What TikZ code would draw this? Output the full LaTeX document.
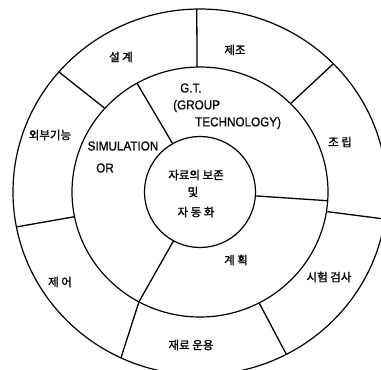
\documentclass[tikz,border=0pt]{standalone}
\usepackage{fontspec}
\setmainfont{Liberation Sans}[FakeStretch=0.9, FakeBold=0.6]
\newfontfamily\kr{Noto Sans CJK KR}[FakeBold=1.4]
\begin{document}
\begin{tikzpicture}[x=1pt,y=-1pt,
  ring/.style={draw=black, line width=1.2pt},
  divider/.style={draw=black, line width=1.3pt},
  kor/.style={font=\kr\fontsize{11.5}{12}\selectfont, inner sep=0pt},
  lat/.style={font=\fontsize{13}{15}\selectfont, inner sep=0pt}]
\useasboundingbox (0,0) rectangle (381,370);
\begin{scope}
\clip (0,0) rectangle (381,370);
% rings
\path[ring] (200,192) ellipse [x radius=187pt, y radius=183pt];
\path[ring] (200,192) ellipse [x radius=128pt, y radius=125pt];
\path[ring] (200,192) circle [radius=55.5pt];
% points on outer ring
\coordinate (o1) at ({200+187*cos(139)},{192-183*sin(139)});
\coordinate (o2) at ({200+187*cos(91)},{192-183*sin(91)});
\coordinate (o3) at ({200+187*cos(44.5)},{192-183*sin(44.5)});
\coordinate (o4) at ({200+187*cos(-8.5)},{192-183*sin(-8.5)});
\coordinate (o5) at ({200+187*cos(-62.5)},{192-183*sin(-62.5)});
\coordinate (o6) at ({200+187*cos(245)},{192-183*sin(245)});
\coordinate (o7) at ({200+187*cos(191)},{192-183*sin(191)});
% points on middle ring
\coordinate (m1) at ({200+128*cos(138)},{192-125*sin(138)});
\coordinate (m2) at ({200+128*cos(91.3)},{192-125*sin(91.3)});
\coordinate (m3) at ({200+128*cos(45)},{192-125*sin(45)});
\coordinate (m4) at ({200+128*cos(-9)},{192-125*sin(-9)});
\coordinate (m5) at ({200+128*cos(-62.5)},{192-125*sin(-62.5)});
\coordinate (m6) at ({200+128*cos(241.5)},{192-125*sin(241.5)});
\coordinate (m7) at ({200+128*cos(191.4)},{192-125*sin(191.4)});
\coordinate (ma) at ({200+128*cos(119.5)},{192-125*sin(119.5)});
\coordinate (mb) at ({200+128*cos(-4)},{192-125*sin(-4)});
% points on inner ring
\coordinate (ia) at ({200+55.5*cos(119.5)},{192-55.5*sin(119.5)});
\coordinate (ib) at ({200+55.5*cos(-4)},{192-55.5*sin(-4)});
\coordinate (ic) at ({200+55.5*cos(241.5)},{192-55.5*sin(241.5)});
% dividers
\path[divider] (m1) -- (o1);
\path[divider] (m2) -- (o2);
\path[divider] (m3) -- (o3);
\path[divider] (m4) -- (o4);
\path[divider] (m5) -- (o5);
\path[divider] (m6) -- (o6);
\path[divider] (m7) -- (o7);
\path[divider] (ia) -- (ma);
\path[divider] (ib) -- (mb);
\path[divider] (ic) -- (m6);
\end{scope}
% outer ring labels
\node[kor] (t1) at (121,57) {설 계};
\node[kor] (t2) at (235,50) {제조};
\node[kor] (t3) at (340,142) {조 립};
\node[kor] (t4) at (329,277) {시험 검사};
\node[kor] (t5) at (191,345) {재료 운용};
\node[kor] (t6) at (60,282) {제 어};
\node[kor] (t7) at (50,135) {외부기능};
% middle ring labels
\node[lat, anchor=west] (gt1) at (180,88) {G.T.};
\node[lat, anchor=west] (gt2) at (173,106) {(GROUP};
\node[lat, anchor=west] (gt3) at (195,123) {TECHNOLOGY)};
\node[lat] (sim) at (123,146) {SIMULATION};
\node[lat] (or) at (105,168) {OR};
\node[kor] (t8) at (236,260) {계 획};
% centre labels
\node[kor] (c1) at (196,175) {자료의 보존};
\node[kor] (c2) at (193,192) {및};
\node[kor] (c3) at (196,212) {자 동 화};
\end{tikzpicture}
\end{document}
